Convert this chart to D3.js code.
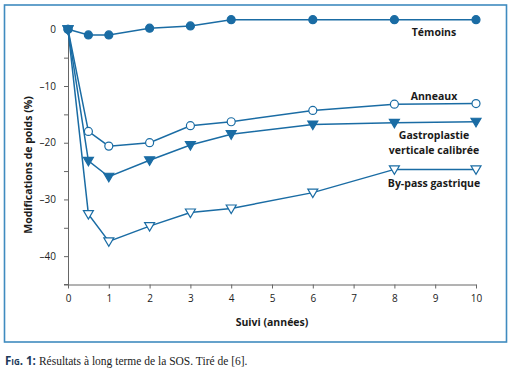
<!DOCTYPE html>
<html>
<head>
<meta charset="utf-8">
<script src="https://cdn.jsdelivr.net/npm/d3@7"></script>
<style>
  body { margin: 0; background: #fff; }
  svg text { font-family: "Open Sans", "Noto Sans", sans-serif; }
</style>
</head>
<body>
<svg id="chart" width="513" height="373"></svg>
<script>
// years of follow-up
const years = [0, 0.5, 1, 2, 3, 4, 6, 8, 10];
// weight change (%) per group
const temoins = [0, -1, -1, 0.2, 0.6, 1.7, 1.7, 1.7, 1.7];
const anneaux = [0, -18, -20.6, -20, -17, -16.3, -14.3, -13.2, -13.1];
const gastroplastie = [0, -23.2, -26, -23.1, -20.4, -18.5, -16.8, -16.5, -16.3];
const bypass = [0, -32.6, -37.4, -34.7, -32.3, -31.6, -28.8, -24.7, -24.7];
const xTicks = [0, 1, 2, 3, 4, 5, 6, 7, 8, 9, 10];
const yTicks = [0, -5, -10, -15, -20, -25, -30, -35, -40, -45];

const blue = "#1a6ca4";
const svg = d3.select("#chart");

// frame
svg.append("rect")
  .attr("x", 4.5).attr("y", 5)
  .attr("width", 502).attr("height", 337)
  .attr("fill", "none")
  .attr("stroke", "#3f8bbf")
  .attr("stroke-width", 1.6);

const x = d3.scaleLinear().domain([0, 10]).range([68, 476]);
const y = d3.scaleLinear().domain([0, -45]).range([29.3, 284.5]);

// axes
const xAxis = svg.append("g")
  .attr("transform", "translate(0," + y(-45) + ")")
  .call(d3.axisBottom(x).tickValues(xTicks).tickSize(4).tickSizeOuter(0).tickPadding(6));
const yAxis = svg.append("g")
  .attr("transform", "translate(" + x(0) + ",0)")
  .call(d3.axisLeft(y).tickValues(yTicks).tickSize(4).tickSizeOuter(0).tickPadding(8)
    .tickFormat(d => (d % 10 === 0 && d !== -45) ? (d < 0 ? "\u2013" + (-d) : d) : ""));
// x axis line reaches left to the y tick ends
svg.append("line")
  .attr("x1", x(0) - 4).attr("x2", x(0))
  .attr("y1", y(-45)).attr("y2", y(-45))
  .attr("stroke", "#666").attr("stroke-width", 1);

[xAxis, yAxis].forEach(g => {
  g.select(".domain").attr("stroke", "#666");
  g.selectAll(".tick line").attr("stroke", "#666");
  g.selectAll(".tick text")
    .style("font-family", "'Open Sans', sans-serif")
    .style("font-size", "10px")
    .attr("fill", "#222");
});

// lines
const line = d3.line().x((d, i) => x(years[i])).y(d => y(d));
const series = [
  { values: bypass, marker: "tri", fill: "#fff" },
  { values: gastroplastie, marker: "tri", fill: blue },
  { values: anneaux, marker: "circle", fill: "#fff" },
  { values: temoins, marker: "circle", fill: blue }
];

series.forEach(s => {
  svg.append("path")
    .datum(s.values)
    .attr("d", line)
    .attr("fill", "none")
    .attr("stroke", blue)
    .attr("stroke-width", 1.5);
});

series.forEach(s => {
  const g = svg.append("g");
  s.values.forEach((v, i) => {
    const cx = x(years[i]), cy = y(v);
    if (s.marker === "circle") {
      g.append("circle")
        .attr("cx", cx).attr("cy", cy).attr("r", 4)
        .attr("fill", s.fill).attr("stroke", blue).attr("stroke-width", 1.2);
    } else {
      g.append("path")
        .attr("d", "M" + (cx - 5) + "," + (cy - 3.5) + "L" + (cx + 5) + "," + (cy - 3.5) + "L" + cx + "," + (cy + 5) + "Z")
        .attr("fill", s.fill).attr("stroke", blue).attr("stroke-width", 1.2);
    }
  });
});

// series labels
const labels = [
  { text: "Témoins", y: 36 },
  { text: "Anneaux", y: 100 },
  { text: "Gastroplastie", y: 139 },
  { text: "verticale calibrée", y: 154 },
  { text: "By-pass gastrique", y: 187 }
];
svg.selectAll(".lbl").data(labels).enter().append("text")
  .attr("class", "lbl")
  .attr("x", 434).attr("y", d => d.y)
  .attr("text-anchor", "middle")
  .style("font-size", "10.5px")
  .style("font-weight", "bold")
  .attr("fill", "#1a1a1a")
  .text(d => d.text);

// axis titles
svg.append("text")
  .attr("x", 272).attr("y", 326)
  .attr("text-anchor", "middle")
  .style("font-size", "10.5px").style("font-weight", "bold")
  .attr("fill", "#1a1a1a")
  .text("Suivi (années)");
svg.append("text")
  .attr("transform", "translate(31.5,165) rotate(-90)")
  .attr("text-anchor", "middle")
  .style("font-size", "10.5px").style("font-weight", "bold")
  .attr("fill", "#1a1a1a")
  .text("Modifications de poids (%)");

// caption
const cap = svg.append("text").attr("x", 5).attr("y", 364.5);
cap.append("tspan")
  .style("font-family", "'Open Sans', sans-serif")
  .style("font-weight", "bold").style("font-size", "11.5px")
  .style("font-variant", "small-caps")
  .attr("fill", "#1d3a5a")
  .text("Fig. 1: ");
cap.append("tspan")
  .style("font-family", "'Liberation Serif', serif")
  .style("font-size", "11.5px")
  .attr("fill", "#222")
  .text("Résultats à long terme de la SOS. Tiré de [6].");
</script>
</body>
</html>
